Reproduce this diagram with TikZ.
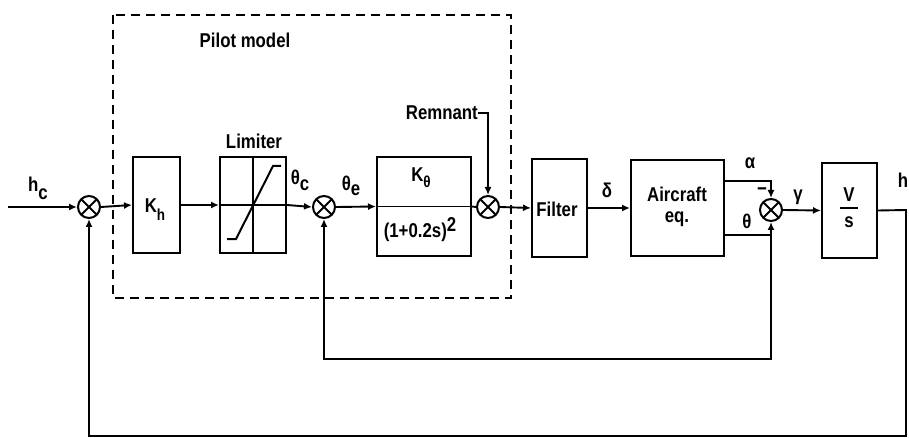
\documentclass[tikz,border=0pt]{standalone}
\usepackage{fontspec}
\setmainfont{Liberation Sans}[FakeStretch=0.84]
\usetikzlibrary{arrows.meta}
\newcommand\dn[2][7pt]{\raisebox{-#1}{#2}}
\newcommand\subsz{\fontsize{16}{16}\selectfont}
\begin{document}
\begin{tikzpicture}[x=1pt,y=-1pt,
  every node/.style={font=\fontsize{20}{22}\selectfont\bfseries},
  blk/.style={draw,line width=2pt,inner sep=0pt},
  sumj/.style={draw,circle,line width=2pt,minimum size=22pt,inner sep=0pt,
    path picture={\draw[line width=1.8pt] (path picture bounding box.north west)--(path picture bounding box.south east)
      (path picture bounding box.north east)--(path picture bounding box.south west);}},
  ln/.style={line width=1.9pt},
  ar/.style={line width=1.9pt,-{Latex[length=8pt,width=7pt]}},
  lbl/.style={inner sep=0pt}]
\useasboundingbox (0,0) rectangle (909,438);
% pilot model box
\draw[line width=2pt,dash pattern=on 9pt off 6pt] (113,15) rectangle (511,298);
\node[lbl] (pm) at (245,40) {Pilot model};
% blocks
\node[sumj] (s1) at (89,207) {};
\node[blk,minimum width=47pt,minimum height=96pt] (kh) at (156.5,205) {};
\node[lbl] (khl) at (155,210) {K\dn[8pt]{\subsz h}};
\node[blk,minimum width=66pt,minimum height=96pt] (lim) at (253,205) {};
\node[lbl] (liml) at (254,141) {Limiter};
\node[sumj] (s2) at (324,207) {};
\node[blk,minimum width=94pt,minimum height=99pt] (kt) at (424,206.5) {};
\node[lbl] (ktl) at (421,178) {K\dn[6pt]{\subsz θ}};
\node[lbl] (ktd) at (420,230) {(1+0.2s)\raisebox{6pt}{2}};
\node[sumj] (s3) at (488,207) {};
\node[lbl,anchor=east] (rem) at (478,113) {Remnant};
\node[blk,minimum width=55pt,minimum height=98pt] (fil) at (559.5,208) {};
\node[lbl] (fill) at (557,209) {Filter};
\node[blk,minimum width=93pt,minimum height=96pt] (ac) at (677.5,208) {};
\node[lbl,align=center] (acl) at (677,207) {Aircraft\\[-1pt]eq.};
\node[sumj] (s4) at (771,210) {};
\node[blk,minimum width=55pt,minimum height=95pt] (vs) at (849.5,210.5) {};
\node[lbl] (vl) at (849,195) {V};
\node[lbl] (sl) at (849,222) {s};
\draw[ln] (840,208) -- (858,208);
% limiter characteristic
\draw[line width=1.5pt] (lim.west) -- (lim.east);
\draw[line width=1.5pt] (lim.north) -- (lim.south);
\draw[line width=2pt] (227,239) -- (236,239) -- (273,166) -- (281,166);
% signal labels
\node[lbl] (hcl) at (38,188) {h\dn[8pt]{c}};
\node[lbl] (tcl) at (300,180) {θ\dn[6pt]{c}};
\node[lbl] (tel) at (351,186) {θ\dn[5pt]{e}};
\node[lbl] (dl) at (607,190) {δ};
\node[lbl] (al) at (750,163) {α};
\node[lbl] (thl) at (747,221) {θ};
\node[lbl] (mi) at (762,192) {−};
\node[lbl] (gl) at (798,197) {γ};
\node[lbl] (hl) at (903,180) {h};
% coordinates
\coordinate (in) at (8,207);
\coordinate (rc) at (488,113);
\coordinate (aY) at (0,181);
\coordinate (tY) at (0,235);
\coordinate (iB) at (0,359);
\coordinate (hR) at (906,210);
\coordinate (oB) at (0,436);
% connectors
\draw[ar] (in) -- (s1.west);
\draw[ar] (s1.east) -- (kh.west);
\draw[ar] (kh.east) -- (lim.west);
\draw[ar] (lim.east) -- (s2.west);
\draw[ar] (s2.east) -- (kt.west);
\draw[ln] (kt.west) -- (kt.east);
\draw[ln] (kt.east) -- (s3.west);
\draw[ar] (rem.east) -- (rc) -- (s3.north);
\draw[ar] (s3.east) -- (fil.west);
\draw[ar] (fil.east) -- (ac.west);
\draw[ar] (ac.east |- aY) -| (s4.north);
\draw[ar] (ac.east |- tY) -| (s4.south);
\draw[ar] (s4 |- tY) -- (s4 |- iB) -- (s2 |- iB) -- (s2.south);
\draw[ar] (s4.east) -- (vs.west);
\draw[ar] (vs.east) -- (hR) -- (hR |- oB) -- (s1 |- oB) -- (s1.south);
\end{tikzpicture}
\end{document}
